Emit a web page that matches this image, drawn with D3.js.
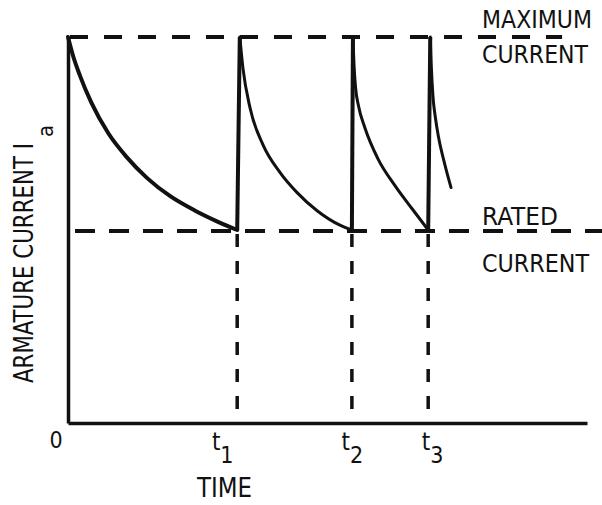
<!DOCTYPE html>
<html>
<head>
<meta charset="utf-8">
<script src="https://cdn.jsdelivr.net/npm/d3@7"></script>
<style>
  body { margin: 0; background: #fff; }
  svg text { font-family: "DejaVu Sans Condensed", "DejaVu Sans", sans-serif; fill: #111; }
</style>
</head>
<body>
<div id="chart"></div>
<script>
// current levels (per unit of rated current)
const I_MAX = 2.0;
const I_RATED = 1.0;

// switching instants t1, t2, t3
const switchTimes = [3.26, 5.47, 6.94];
const switchLabels = ["1", "2", "3"];

// decaying armature current after each re-connection [time, current]
const decay1 = [[0, 2.0], [0.1, 1.9], [0.23, 1.8], [0.45, 1.66], [0.78, 1.5], [1.14, 1.375],
  [1.52, 1.27], [1.97, 1.175], [2.45, 1.1], [2.87, 1.045], [3.26, 1.0]];
const decay2 = [[3.31, 2.0], [3.37, 1.84], [3.51, 1.63], [3.76, 1.44], [4.08, 1.3],
  [4.41, 1.195], [4.8, 1.1], [5.24, 1.025], [5.47, 1.0]];
const decay3 = [[5.49, 2.0], [5.51, 1.86], [5.54, 1.74], [5.6, 1.64], [5.72, 1.53],
  [5.97, 1.37], [6.3, 1.23], [6.63, 1.11], [6.94, 1.0]];
const decay4 = [[6.98, 2.0], [7.0, 1.85], [7.03, 1.7], [7.08, 1.58], [7.14, 1.48],
  [7.26, 1.34], [7.38, 1.22]];

// dashed reference levels: [current, end time]
const maxLine = [I_MAX, 9.52];
const ratedLine = [I_RATED, 10.3];

const width = 602, height = 505;
const margin = { top: 37, right: 15, bottom: 82, left: 68 };

const svg = d3.select("#chart").append("svg")
  .attr("width", width)
  .attr("height", height);

const x = d3.scaleLinear().domain([0, 10]).range([margin.left, width - margin.right]);
const y = d3.scaleLinear().domain([0, I_MAX]).range([height - margin.bottom, margin.top]);

// axes without ticks, just the heavy lines
const xAxis = svg.append("g")
  .attr("transform", `translate(0,${y(0)})`)
  .call(d3.axisBottom(x).tickValues(switchTimes).tickSize(0).tickSizeOuter(0)
    .tickFormat((d, i) => "t||" + switchLabels[i]));
xAxis.select(".domain").attr("stroke", "#111").attr("stroke-width", 3.5);

const yAxis = svg.append("g")
  .attr("transform", `translate(${x(0)},0)`)
  .call(d3.axisLeft(y).tickValues([]).tickSize(0).tickSizeOuter(0));
yAxis.select(".domain").attr("stroke", "#111").attr("stroke-width", 3.5);

// subscripted tick labels t1, t2, t3
const tickLabelNudge = [-15, 0, 4];
xAxis.selectAll(".tick text").each(function(d, i) {
  const parts = d3.select(this).text().split("||");
  const el = d3.select(this).text("")
    .attr("y", 0).attr("dy", null)
    .attr("x", tickLabelNudge[i])
    .attr("text-anchor", "middle")
    .style("font-size", "24px")
    .style("font-family", "DejaVu Sans Condensed, DejaVu Sans, sans-serif")
    .attr("fill", "#111");
  el.append("tspan").attr("dy", 27).text(parts[0]);
  el.append("tspan").attr("dy", 13).style("font-size", "23px").text(parts[1]);
});

// origin label
svg.append("text")
  .attr("x", x(0) - 12)
  .attr("y", y(0) + 25)
  .attr("text-anchor", "middle")
  .style("font-size", "23px")
  .text("0");

// dashed horizontal levels
svg.append("line")
  .attr("x1", x(0)).attr("x2", x(maxLine[1]))
  .attr("y1", y(maxLine[0])).attr("y2", y(maxLine[0]))
  .attr("stroke", "#111").attr("stroke-width", 4)
  .attr("stroke-dasharray", "18,16").attr("stroke-dashoffset", -2);

svg.append("line")
  .attr("x1", x(0)).attr("x2", x(ratedLine[1]))
  .attr("y1", y(ratedLine[0]) + 1).attr("y2", y(ratedLine[0]) + 1)
  .attr("stroke", "#111").attr("stroke-width", 4)
  .attr("stroke-dasharray", "20,14").attr("stroke-dashoffset", -7);

// dashed drops from rated level to the time axis
svg.selectAll(".drop")
  .data(switchTimes)
  .enter().append("line")
  .attr("class", "drop")
  .attr("x1", d => x(d)).attr("x2", d => x(d))
  .attr("y1", y(I_RATED) + 4).attr("y2", y(0))
  .attr("stroke", "#111").attr("stroke-width", 3.5)
  .attr("stroke-dasharray", "13,14");

// decay curves
const decays = [decay1, decay2, decay3, decay4];
const line = d3.line()
  .x(d => x(d[0]))
  .y(d => y(d[1]))
  .curve(d3.curveMonotoneX);

svg.selectAll(".decay")
  .data(decays)
  .enter().append("path")
  .attr("class", "decay")
  .attr("fill", "none")
  .attr("stroke", "#111")
  .attr("stroke-width", (d, i) => i === 0 ? 4 : 3)
  .attr("stroke-linecap", "round")
  .attr("d", line);

// vertical rises back to maximum current at each switching instant
const rises = decays.slice(1).map((dec, i) => [decays[i][decays[i].length - 1], dec[0]]);
svg.selectAll(".rise")
  .data(rises)
  .enter().append("path")
  .attr("class", "rise")
  .attr("fill", "none")
  .attr("stroke", "#111")
  .attr("stroke-width", 4)
  .attr("d", d3.line().x(d => x(d[0])).y(d => y(d[1])));

// level labels on the right
const levelText = [
  ["MAXIMUM", 28, 110],
  ["CURRENT", 63, 106],
  ["RATED", 225, 76],
  ["CURRENT", 272, 107]
];
svg.selectAll(".level-label")
  .data(levelText)
  .enter().append("text")
  .attr("class", "level-label")
  .attr("x", 482)
  .attr("y", d => d[1])
  .attr("textLength", d => d[2])
  .attr("lengthAdjust", "spacingAndGlyphs")
  .style("font-size", "25px")
  .text(d => d[0]);

// axis titles
svg.append("text")
  .attr("x", 197)
  .attr("y", 497)
  .attr("textLength", 55)
  .attr("lengthAdjust", "spacingAndGlyphs")
  .style("font-size", "27px")
  .text("TIME");

const yTitle = svg.append("text")
  .attr("transform", "rotate(-90)")
  .attr("x", -383)
  .attr("y", 33)
  .style("font-size", "26px");
yTitle.append("tspan")
  .attr("textLength", 240)
  .attr("lengthAdjust", "spacingAndGlyphs")
  .text("ARMATURE CURRENT I");
yTitle.append("tspan")
  .attr("dx", 6)
  .attr("dy", 20)
  .style("font-size", "22px")
  .text("a");
</script>
</body>
</html>
